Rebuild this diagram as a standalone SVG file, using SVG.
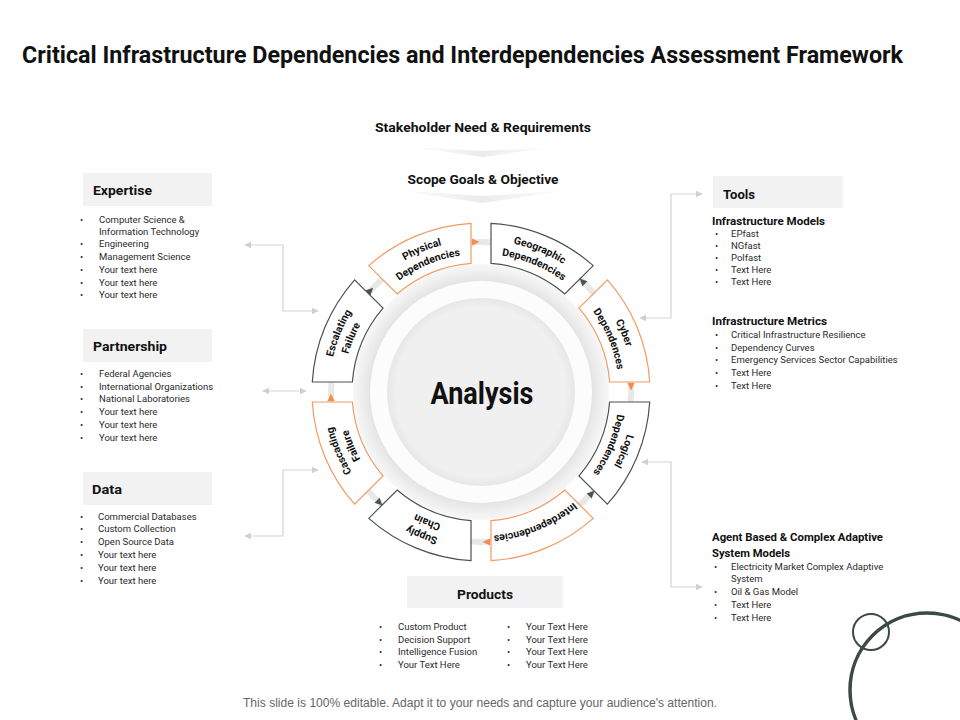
<svg xmlns="http://www.w3.org/2000/svg" width="960" height="720" viewBox="0 0 960 720">
<defs>
<style>
.f{font-family:Roboto,"Liberation Sans",Arial,sans-serif}
.h{font-family:Roboto,"Liberation Sans",Arial,sans-serif;font-weight:700;fill:#111}
.b{font-family:Roboto,"Liberation Sans",Arial,sans-serif;font-size:9.5px;fill:#2a2a2a}
.box{fill:#f2f2f2}
.seg{fill:#fff;stroke-width:1.2}
.or{stroke:#f29a62}
.dk{stroke:#4a5350}
.lbl{font-family:Roboto,"Liberation Sans",Arial,sans-serif;font-weight:700;font-size:10.5px;fill:#111}
.con{fill:none;stroke:#d3d3d3;stroke-width:1.2;marker-start:url(#ah);marker-end:url(#ah)}
</style>
<marker id="ah" viewBox="0 0 10 10" refX="9" refY="5" markerWidth="6" markerHeight="6" orient="auto-start-reverse"><path d="M0,0 L10,5 L0,10 z" fill="#cfcfcf"/></marker>
<path id="aO" d="M383.30,275.56 A152,152 0 0 1 578.70,275.56"/>
<path id="aI" d="M392.30,286.29 A138,138 0 0 1 569.70,286.29"/>
<path id="aS" d="M388.44,281.69 A144,144 0 0 1 573.56,281.69"/>
<radialGradient id="band" gradientUnits="userSpaceOnUse" cx="481" cy="392" r="128">
<stop offset="0.86" stop-color="#e3e3e3"/><stop offset="0.93" stop-color="#eeeeee"/><stop offset="1" stop-color="#f7f7f7"/>
</radialGradient>
<radialGradient id="core" gradientUnits="userSpaceOnUse" cx="481" cy="392" r="94">
<stop offset="0.9" stop-color="#f0f0f0"/><stop offset="1" stop-color="#e7e7e7"/>
</radialGradient>
<linearGradient id="chev" x1="0" y1="0" x2="1" y2="0">
<stop offset="0" stop-color="#fff"/><stop offset="0.5" stop-color="#ebebeb"/><stop offset="1" stop-color="#fff"/>
</linearGradient>
</defs>
<rect width="960" height="720" fill="#fff"/>

<g id="title">
<text class="h" x="22" y="63" font-size="23" textLength="881" lengthAdjust="spacingAndGlyphs">Critical Infrastructure Dependencies and Interdependencies Assessment Framework</text>
</g>

<g id="stakeholder">
<text class="h" x="483" y="132" font-size="13" text-anchor="middle" textLength="216" lengthAdjust="spacingAndGlyphs">Stakeholder Need &amp; Requirements</text>
<polygon points="410,147 483,157 556,147 483,151" fill="url(#chev)"/>
</g>
<g id="scope">
<text class="h" x="483" y="184" font-size="13" text-anchor="middle" textLength="151" lengthAdjust="spacingAndGlyphs">Scope Goals &amp; Objective</text>
<polygon points="395,190 483,203 571,190 483,196" fill="url(#chev)"/>
</g>

<g id="connectors">
<path class="con" d="M245,245 H283 V311 H318"/>
<path class="con" d="M263,391 H306"/>
<path class="con" d="M245,536 H283 V470 H318"/>
<path class="con" d="M702,194 H671 V318 H640"/>
<path class="con" d="M642,462 H671 V587 H702"/>
</g>

<g id="analysis">
<circle cx="481" cy="392" r="128" fill="url(#band)"/>
<circle cx="481" cy="392" r="111" fill="#fcfcfc"/>
<circle cx="481" cy="392" r="94" fill="url(#core)"/>
<text class="h" x="482" y="404" font-size="31" text-anchor="middle" textLength="103" lengthAdjust="spacingAndGlyphs">Analysis</text>
</g>

<g id="ring">
<circle cx="481" cy="392" r="150" fill="none" stroke="#e8e8e8" stroke-width="6"/>
</g>

<g id="physical">
<path class="seg or" d="M368.78,265.64 A169,169 0 0 1 471,223.30 L471,263.39 A129,129 0 0 0 397.13,293.99 Z"/>
<text class="lbl" transform="rotate(-22.5 481 392)"><textPath href="#aO" startOffset="50%" text-anchor="middle">Physical</textPath></text>
<text class="lbl" transform="rotate(-22.5 481 392)"><textPath href="#aI" startOffset="50%" text-anchor="middle">Dependencies</textPath></text>
</g>
<g id="geographic">
<path class="seg dk" d="M491,223.30 A169,169 0 0 1 593.22,265.64 L564.87,293.99 A129,129 0 0 0 491,263.39 Z"/>
<text class="lbl" transform="rotate(22.5 481 392)"><textPath href="#aO" startOffset="50%" text-anchor="middle">Geographic</textPath></text>
<text class="lbl" transform="rotate(22.5 481 392)"><textPath href="#aI" startOffset="50%" text-anchor="middle">Dependencies</textPath></text>
</g>
<g id="cyber">
<path class="seg or" d="M607.36,279.78 A169,169 0 0 1 649.70,382 L609.61,382 A129,129 0 0 0 579.01,308.13 Z"/>
<text class="lbl" transform="rotate(67.5 481 392)"><textPath href="#aO" startOffset="50%" text-anchor="middle">Cyber</textPath></text>
<text class="lbl" transform="rotate(67.5 481 392)"><textPath href="#aI" startOffset="50%" text-anchor="middle">Dependences</textPath></text>
</g>
<g id="logical">
<path class="seg dk" d="M649.70,402 A169,169 0 0 1 607.36,504.22 L579.01,475.87 A129,129 0 0 0 609.61,402 Z"/>
<text class="lbl" transform="rotate(112.5 481 392)"><textPath href="#aO" startOffset="50%" text-anchor="middle">Logical</textPath></text>
<text class="lbl" transform="rotate(112.5 481 392)"><textPath href="#aI" startOffset="50%" text-anchor="middle">Dependences</textPath></text>
</g>
<g id="interdependencies">
<path class="seg or" d="M593.22,518.36 A169,169 0 0 1 491,560.70 L491,520.61 A129,129 0 0 0 564.87,490.01 Z"/>
<text class="lbl" transform="rotate(157.5 481 392)"><textPath href="#aS" startOffset="50%" text-anchor="middle">Interdependencies</textPath></text>
</g>
<g id="supply-chain">
<path class="seg dk" d="M471,560.70 A169,169 0 0 1 368.78,518.36 L397.13,490.01 A129,129 0 0 0 471,520.61 Z"/>
<text class="lbl" transform="rotate(202.5 481 392)"><textPath href="#aO" startOffset="50%" text-anchor="middle">Supply</textPath></text>
<text class="lbl" transform="rotate(202.5 481 392)"><textPath href="#aI" startOffset="50%" text-anchor="middle">Chain</textPath></text>
</g>
<g id="cascading">
<path class="seg or" d="M354.64,504.22 A169,169 0 0 1 312.30,402 L352.39,402 A129,129 0 0 0 382.99,475.87 Z"/>
<text class="lbl" transform="rotate(247.5 481 392)"><textPath href="#aO" startOffset="50%" text-anchor="middle">Cascading</textPath></text>
<text class="lbl" transform="rotate(247.5 481 392)"><textPath href="#aI" startOffset="50%" text-anchor="middle">Failure</textPath></text>
</g>
<g id="escalating">
<path class="seg dk" d="M312.30,382 A169,169 0 0 1 354.64,279.78 L382.99,308.13 A129,129 0 0 0 352.39,382 Z"/>
<text class="lbl" transform="rotate(292.5 481 392)"><textPath href="#aO" startOffset="50%" text-anchor="middle">Escalating</textPath></text>
<text class="lbl" transform="rotate(292.5 481 392)"><textPath href="#aI" startOffset="50%" text-anchor="middle">Failure</textPath></text>
</g>

<g id="flow-markers">
<polygon points="472,238.5 479.5,242 472,245.5" fill="#f28c4f"/>
<polygon points="472,238.5 479.5,242 472,245.5" fill="#f28c4f" transform="rotate(90 481 392)"/>
<polygon points="472,238.5 479.5,242 472,245.5" fill="#f28c4f" transform="rotate(180 481 392)"/>
<polygon points="472,238.5 479.5,242 472,245.5" fill="#f28c4f" transform="rotate(270 481 392)"/>
<polygon points="478,238.5 470.5,242 478,245.5" fill="#4a5350" transform="rotate(45 481 392)"/>
<polygon points="478,238.5 470.5,242 478,245.5" fill="#4a5350" transform="rotate(135 481 392)"/>
<polygon points="478,238.5 470.5,242 478,245.5" fill="#4a5350" transform="rotate(225 481 392)"/>
<polygon points="471,238.5 478.5,242 471,245.5" fill="#4a5350" transform="rotate(-45 481 392)"/>
</g>

<g id="expertise">
<rect class="box" x="83" y="173" width="129" height="33"/>
<text class="h" x="93" y="195" font-size="13.5" textLength="59" lengthAdjust="spacingAndGlyphs">Expertise</text>
<text class="b" x="80" y="223">•</text><text class="b" x="99" y="223">Computer Science &amp;</text>
<text class="b" x="99" y="235">Information Technology</text>
<text class="b" x="80" y="247">•</text><text class="b" x="99" y="247">Engineering</text>
<text class="b" x="80" y="260">•</text><text class="b" x="99" y="260">Management Science</text>
<text class="b" x="80" y="273">•</text><text class="b" x="99" y="273">Your text here</text>
<text class="b" x="80" y="286">•</text><text class="b" x="99" y="286">Your text here</text>
<text class="b" x="80" y="298">•</text><text class="b" x="99" y="298">Your text here</text>
</g>

<g id="partnership">
<rect class="box" x="83" y="329" width="129" height="33"/>
<text class="h" x="93" y="351" font-size="13.5" textLength="74" lengthAdjust="spacingAndGlyphs">Partnership</text>
<text class="b" x="80" y="377">•</text><text class="b" x="99" y="377">Federal Agencies</text>
<text class="b" x="80" y="390">•</text><text class="b" x="99" y="390">International Organizations</text>
<text class="b" x="80" y="402">•</text><text class="b" x="99" y="402">National Laboratories</text>
<text class="b" x="80" y="415">•</text><text class="b" x="99" y="415">Your text here</text>
<text class="b" x="80" y="428">•</text><text class="b" x="99" y="428">Your text here</text>
<text class="b" x="80" y="441">•</text><text class="b" x="99" y="441">Your text here</text>
</g>

<g id="data">
<rect class="box" x="83" y="472" width="129" height="33"/>
<text class="h" x="92" y="494" font-size="13.5" textLength="30" lengthAdjust="spacingAndGlyphs">Data</text>
<text class="b" x="80" y="520">•</text><text class="b" x="98" y="520">Commercial Databases</text>
<text class="b" x="80" y="532">•</text><text class="b" x="98" y="532">Custom Collection</text>
<text class="b" x="80" y="545">•</text><text class="b" x="98" y="545">Open Source Data</text>
<text class="b" x="80" y="558">•</text><text class="b" x="98" y="558">Your text here</text>
<text class="b" x="80" y="571">•</text><text class="b" x="98" y="571">Your text here</text>
<text class="b" x="80" y="584">•</text><text class="b" x="98" y="584">Your text here</text>
</g>

<g id="tools">
<rect class="box" x="713" y="176" width="130" height="32"/>
<text class="h" x="723" y="199" font-size="13.5" textLength="32" lengthAdjust="spacingAndGlyphs">Tools</text>
<text class="h" x="712" y="225" font-size="11" textLength="113" lengthAdjust="spacingAndGlyphs">Infrastructure Models</text>
<text class="b" x="715" y="237">•</text><text class="b" x="731" y="237">EPfast</text>
<text class="b" x="715" y="249">•</text><text class="b" x="731" y="249">NGfast</text>
<text class="b" x="715" y="261">•</text><text class="b" x="731" y="261">Polfast</text>
<text class="b" x="715" y="273">•</text><text class="b" x="731" y="273">Text Here</text>
<text class="b" x="715" y="285">•</text><text class="b" x="731" y="285">Text Here</text>
<text class="h" x="712" y="325" font-size="11" textLength="115" lengthAdjust="spacingAndGlyphs">Infrastructure Metrics</text>
<text class="b" x="715" y="338">•</text><text class="b" x="731" y="338">Critical Infrastructure Resilience</text>
<text class="b" x="715" y="351">•</text><text class="b" x="731" y="351">Dependency Curves</text>
<text class="b" x="715" y="363">•</text><text class="b" x="731" y="363">Emergency Services Sector Capabilities</text>
<text class="b" x="715" y="376">•</text><text class="b" x="731" y="376">Text Here</text>
<text class="b" x="715" y="389">•</text><text class="b" x="731" y="389">Text Here</text>
</g>

<g id="agent-models">
<text class="h" x="712" y="541" font-size="11" textLength="171" lengthAdjust="spacingAndGlyphs">Agent Based &amp; Complex Adaptive</text>
<text class="h" x="712" y="557" font-size="11" textLength="78" lengthAdjust="spacingAndGlyphs">System Models</text>
<text class="b" x="714" y="570">•</text><text class="b" x="731" y="570">Electricity Market Complex Adaptive</text>
<text class="b" x="731" y="582">System</text>
<text class="b" x="714" y="595">•</text><text class="b" x="731" y="595">Oil &amp; Gas Model</text>
<text class="b" x="714" y="608">•</text><text class="b" x="731" y="608">Text Here</text>
<text class="b" x="714" y="621">•</text><text class="b" x="731" y="621">Text Here</text>
</g>

<g id="products">
<rect class="box" x="407" y="576" width="156" height="32"/>
<text class="h" x="485" y="599" font-size="13.5" text-anchor="middle" textLength="56" lengthAdjust="spacingAndGlyphs">Products</text>
<text class="b" x="379" y="630">•</text><text class="b" x="398" y="630">Custom Product</text>
<text class="b" x="379" y="643">•</text><text class="b" x="398" y="643">Decision Support</text>
<text class="b" x="379" y="655">•</text><text class="b" x="398" y="655">Intelligence Fusion</text>
<text class="b" x="379" y="668">•</text><text class="b" x="398" y="668">Your Text Here</text>
<text class="b" x="507" y="630">•</text><text class="b" x="526" y="630">Your Text Here</text>
<text class="b" x="507" y="643">•</text><text class="b" x="526" y="643">Your Text Here</text>
<text class="b" x="507" y="655">•</text><text class="b" x="526" y="655">Your Text Here</text>
<text class="b" x="507" y="668">•</text><text class="b" x="526" y="668">Your Text Here</text>
</g>

<g id="footer">
<text x="480" y="707" font-family="'Liberation Sans',Arial,sans-serif" font-size="12" fill="#666" text-anchor="middle" textLength="474" lengthAdjust="spacingAndGlyphs">This slide is 100% editable. Adapt it to your needs and capture your audience's attention.</text>
</g>

<g id="decoration" fill="none" stroke="#3b4a45">
<circle cx="927" cy="690" r="77" stroke-width="3.5"/>
<circle cx="871" cy="632" r="18" stroke-width="2"/>
</g>
</svg>
